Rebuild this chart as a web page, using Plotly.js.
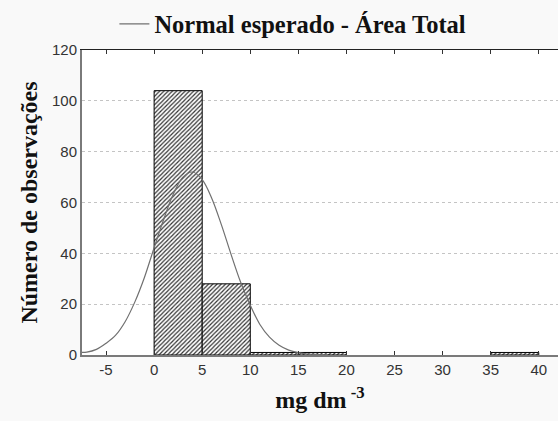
<!DOCTYPE html>
<html>
<head>
<meta charset="utf-8">
<script src="https://cdn.plot.ly/plotly-3.0.1.min.js"></script>
<style>html,body{margin:0;padding:0;background:#f9f9f9;}#chart{width:558px;height:421px;}</style>
</head>
<body>
<div id="chart"></div>
<script>
// Histogram bins (centers, width 5) and counts
const binCenters = [2.5, 7.5, 12.5, 17.5, 37.5];
const binCounts = [104, 28, 1, 1, 1];
const binWidth = [5, 5, 5, 5, 5];

// Expected normal curve
const curveX = [-7.5, -7, -6, -5, -4, -3, -2, -1, 0, 1, 2, 3, 4, 5, 6, 7, 8, 9, 10, 11, 12, 13, 14, 15, 16, 17, 18];
const curveY = [1.0, 1.1, 2.2, 4.6, 7.8, 13.2, 20.9, 30.6, 42.2, 53.4, 63.3, 70.0, 72.0, 69.0, 61.6, 51.2, 39.6, 28.6, 19.6, 12.0, 7.0, 3.8, 1.9, 0.9, 0.4, 0.2, 0.1];

const xTicks = [-5, 0, 5, 10, 15, 20, 25, 30, 35, 40];
const xTickText = ['-5', '0', '5', '10', '15', '20', '25', '30', '35', '40'];
const yTicks = [0, 20, 40, 60, 80, 100, 120];

const serif = "Liberation Serif, Times New Roman, serif";
const sans = "Liberation Sans, Arial, sans-serif";

const traces = [
  {
    type: 'bar',
    x: binCenters,
    y: binCounts,
    width: binWidth,
    showlegend: false,
    marker: {
      color: '#ffffff',
      line: {color: '#000000', width: 1},
      pattern: {shape: '/', fgcolor: '#333333', bgcolor: '#ffffff', size: 3, solidity: 0.4}
    },
    hoverinfo: 'skip'
  },
  {
    type: 'scatter',
    mode: 'lines',
    x: curveX,
    y: curveY,
    name: 'Normal esperado - Área Total',
    line: {color: '#707070', width: 1.2, shape: 'spline'},
    hoverinfo: 'skip'
  },
  {
    type: 'scatter',
    mode: 'lines',
    x: [-7.5, 42],
    y: [null, null],
    xaxis: 'x2',
    showlegend: false,
    hoverinfo: 'skip'
  }
];

const layout = {
  width: 558,
  height: 421,
  margin: {l: 82, r: 0, t: 50, b: 66},
  paper_bgcolor: '#f9f9f9',
  plot_bgcolor: '#ffffff',
  bargap: 0,
  showlegend: true,
  legend: {
    orientation: 'h',
    xref: 'container', yref: 'container',
    x: 0.205, xanchor: 'left',
    y: 0.943, yanchor: 'middle',
    bgcolor: 'rgba(0,0,0,0)',
    font: {family: serif, size: 24.5, color: '#111111', weight: 'bold'}
  },
  xaxis: {
    range: [-7.5, 42],
    tickvals: xTicks,
    ticktext: xTickText,
    ticks: 'inside',
    ticklen: 4,
    tickcolor: '#333333',
    showline: true,
    linecolor: '#7a7a7a',
    linewidth: 2,
    showgrid: false,
    zeroline: false,
    tickfont: {family: sans, size: 15, color: '#333333'},
    title: {text: 'mg dm<sup> -3</sup>', font: {family: serif, size: 24, color: '#111111', weight: 'bold'}, standoff: 14}
  },
  xaxis2: {
    range: [-7.5, 42],
    overlaying: 'x',
    side: 'top',
    anchor: 'y',
    tickvals: xTicks,
    ticks: 'inside',
    ticklen: 4,
    tickcolor: '#333333',
    showticklabels: false,
    showline: true,
    linecolor: '#222222',
    linewidth: 1,
    showgrid: false,
    zeroline: false
  },
  yaxis: {
    range: [0, 120],
    tickvals: yTicks,
    ticks: '',
    showline: true,
    linecolor: '#7a7a7a',
    linewidth: 2,
    showgrid: true,
    gridcolor: '#c4c4c4',
    griddash: 'dot',
    gridwidth: 1,
    zeroline: false,
    tickfont: {family: sans, size: 15, color: '#333333'},
    title: {text: 'Número de observações', font: {family: serif, size: 24, color: '#111111', weight: 'bold'}, standoff: 8}
  }
};

Plotly.newPlot('chart', traces, layout, {displayModeBar: false, staticPlot: true});
</script>
</body>
</html>
